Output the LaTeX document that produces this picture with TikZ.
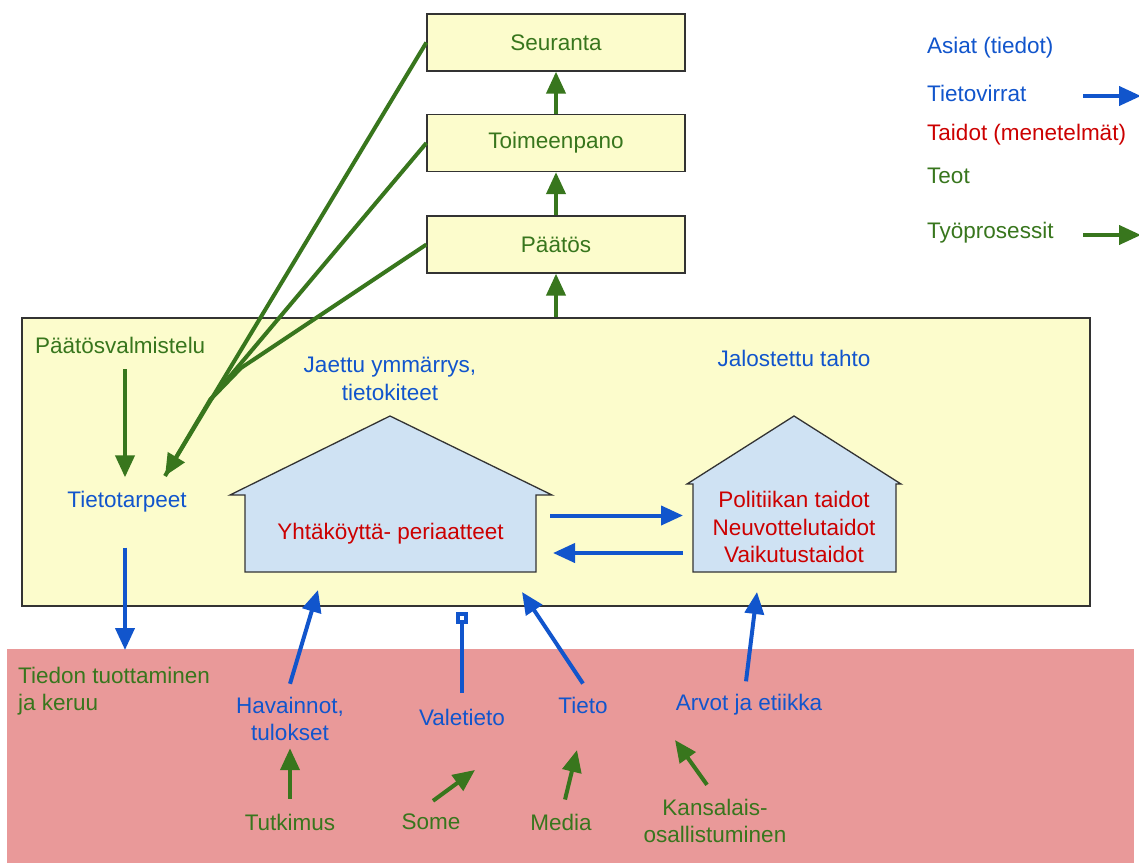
\documentclass[tikz,border=0pt]{standalone}
\usepackage{fontspec}
\setmainfont{Liberation Sans}
\usetikzlibrary{arrows.meta}

\definecolor{sininen}{HTML}{1155CC}
\definecolor{vihrea}{HTML}{38761D}
\definecolor{punainen}{HTML}{CC0000}
\definecolor{keltainen}{HTML}{FCFCCC}
\definecolor{roosa}{HTML}{E99999}
\definecolor{vaaleansininen}{HTML}{CFE2F3}

\tikzset{
    laatikko/.style={draw=black!80, line width=1.3pt, fill=keltainen, text=vihrea},
    asia/.style={text=sininen, align=center, inner sep=0pt},
    taito/.style={text=punainen, align=center, inner sep=0pt},
    teko/.style={text=vihrea, align=center, inner sep=0pt},
    tietovirta/.style={draw=sininen, line width=4pt, -{Triangle[length=22pt,width=19pt]}},
    tyoprosessi/.style={draw=vihrea, line width=4pt, line join=round, -{Triangle[length=22pt,width=19pt]}},
    seina/.style={inner sep=0pt, outer sep=0pt},
    katto/.style={draw=black!80, line width=1.3pt, fill=vaaleansininen}
}

\begin{document}
\begin{tikzpicture}[x=1pt, y=-1pt, font=\fontsize{22.5pt}{27.5pt}\selectfont]
    \fill[white] (0,0) rectangle (1139,862);
    \useasboundingbox (0,0) rectangle (1139,862);
    % Tiedon tuotanto ja valmistelu
    \node[fill=roosa, minimum width=1127pt, minimum height=221pt, inner sep=0pt] (tuotanto) at (570.5,759.5) {};
    \node[laatikko, minimum width=1068pt, minimum height=288pt] (valmistelu) at (556,462) {};
    % Paatosketju
    \node[laatikko, minimum width=258pt, minimum height=57pt] (seuranta) at (556,42.5) {Seuranta};
    \node[laatikko, minimum width=258pt, minimum height=57pt] (toimeenpano) at (556,143) {Toimeenpano};
    \node[laatikko, minimum width=258pt, minimum height=57pt] (paatos) at (556,244.5) {Päätös};
    % Talot
    \node[seina, minimum width=291pt, minimum height=77pt] (talo1) at (390.5,533.5) {};
    \node[seina, minimum width=203pt, minimum height=88pt] (talo2) at (794.5,528) {};
    \draw[katto] ([xshift=-15pt]talo1.north west) -- (390,416) -- ([xshift=16pt]talo1.north east)
        -- (talo1.north east) -- (talo1.south east) -- (talo1.south west) -- (talo1.north west) -- cycle;
    \draw[katto] ([xshift=-6pt]talo2.north west) -- (794,416) -- ([xshift=5pt]talo2.north east)
        -- (talo2.north east) -- (talo2.south east) -- (talo2.south west) -- (talo2.north west) -- cycle;
    % Tekstit
    \node[teko, anchor=west] (otsikko) at (35,345) {Päätösvalmistelu};
    \node[asia] (tarpeet) at (127,502) {Tietotarpeet};
    \node[asia] (ymmarrys) at (390,379) {Jaettu ymmärrys,\\tietokiteet};
    \node[asia] (tahto) at (794,358) {Jalostettu tahto};
    \node[taito] (periaatteet) at (talo1) {Yhtäköyttä- periaatteet};
    \node[taito] (taidot) at (794,527) {Politiikan taidot\\Neuvottelutaidot\\Vaikutustaidot};
    \node[teko, anchor=west, align=left] (tuottaminen) at (18,691) {Tiedon tuottaminen\\ja keruu};
    \node[asia] (havainnot) at (290,719) {Havainnot,\\tulokset};
    \node[asia] (valetieto) at (462,717) {Valetieto};
    \node[asia] (tieto) at (583,705) {Tieto};
    \node[asia] (arvot) at (749,705) {Arvot ja etiikka};
    \node[teko] (tutkimus) at (290,822) {Tutkimus};
    \node[teko] (some) at (431,822) {Some};
    \node[teko] (media) at (561,822) {Media};
    \node[teko] (kansalais) at (715,821) {Kansalais-\\osallistuminen};
    % Selite
    \node[asia, anchor=west] (s-asiat) at (927,48) {Asiat (tiedot)};
    \node[asia, anchor=west] (s-virrat) at (927,93) {Tietovirrat};
    \node[taito, anchor=west] (s-taidot) at (927,135) {Taidot (menetelmät)};
    \node[teko, anchor=west] (s-teot) at (927,176) {Teot};
    \node[teko, anchor=west] (s-prosessit) at (927,233) {Työprosessit};
    \coordinate (s-virrat-loppu) at (1141,96);
    \coordinate (s-prosessit-loppu) at (1141,235);
    \draw[tietovirta] ([xshift=-58pt]s-virrat-loppu) -- (s-virrat-loppu);
    \draw[tyoprosessi] ([xshift=-58pt]s-prosessit-loppu) -- (s-prosessit-loppu);
    % Tyoprosessit
    \draw[tyoprosessi] (valmistelu.north -| paatos.south) -- (paatos.south);
    \draw[tyoprosessi] (paatos.north) -- (toimeenpano.south);
    \draw[tyoprosessi] (toimeenpano.north) -- (seuranta.south);
    \coordinate (liitos1) at (241,368);
    \coordinate (liitos2) at (210,400);
    \coordinate (karki) at (165,476);
    \draw[tyoprosessi] (seuranta.west) -- (karki);
    \draw[tyoprosessi, -] (toimeenpano.west) -- (liitos2) -- (karki);
    \draw[tyoprosessi, -] (paatos.west) -- (liitos1) -- (liitos2);
    \draw[tyoprosessi, shorten <=16pt, shorten >=14pt] ([xshift=-2pt]tarpeet.north |- otsikko.south) -- ([xshift=-2pt]tarpeet.north);
    % Tietovirrat
    \coordinate (keruu) at (125,650);
    \draw[tietovirta, shorten <=35pt] ([xshift=-2pt]tarpeet.south) -- (keruu);
    \draw[tietovirta] ([shift={(14,-18)}]talo1.east) -- ++(133,0);
    \draw[tietovirta] ([shift={(-10,25)}]talo2.west) -- ++(-130,0);
    \coordinate (havainnot-karki) at (318,590);
    \coordinate (valetieto-karki) at (462,612);
    \coordinate (tieto-karki) at (522,592);
    \coordinate (arvot-karki) at (757,592);
    \draw[tietovirta] ([yshift=13pt]havainnot.north) -- (havainnot-karki);
    \draw[draw=sininen, line width=4pt, -{Square[open, length=12pt, width=12pt]}] ([yshift=16pt]valetieto.north) -- (valetieto-karki);
    \draw[tietovirta] ([yshift=13pt]tieto.north) -- (tieto-karki);
    \draw[tietovirta] ([shift={(-3,-13)}]arvot.north) -- (arvot-karki);
    % Lahteet
    \coordinate (some-karki) at (475,770);
    \coordinate (media-karki) at (577,750);
    \coordinate (kansalais-karki) at (675,740);
    \draw[tyoprosessi, shorten <=15pt, shorten >=7pt] (tutkimus.north) -- (havainnot.south);
    \draw[tyoprosessi] ([shift={(2,-13)}]some.north) -- (some-karki);
    \draw[tyoprosessi] ([shift={(4,-14)}]media.north) -- (media-karki);
    \draw[tyoprosessi] ([shift={(-8,-14)}]kansalais.north) -- (kansalais-karki);
\end{tikzpicture}
\end{document}
